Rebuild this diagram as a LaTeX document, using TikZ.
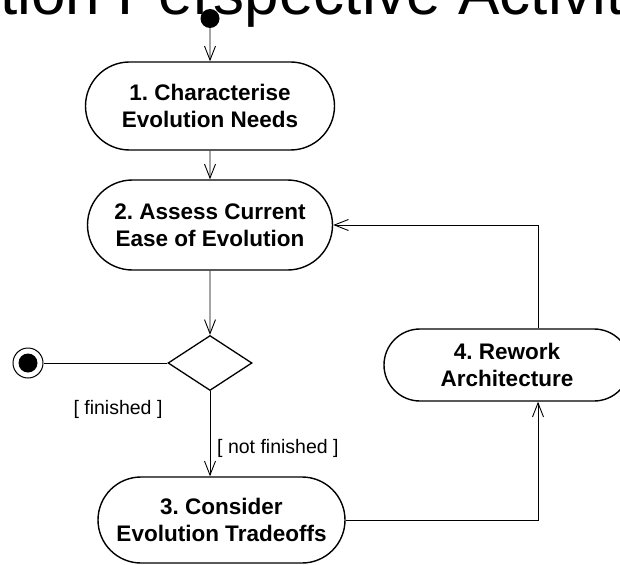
\documentclass[tikz,border=0pt]{standalone}
\usepackage{fontspec}
\newfontfamily\uifont{Liberation Sans}
\usetikzlibrary{calc,shapes.misc,shapes.geometric,arrows.meta}
\frenchspacing
\tikzset{
	activity/.style={draw,line width=1.4pt,rounded rectangle,align=center,inner sep=0pt,
		font=\uifont\bfseries\fontsize{22.5}{27}\selectfont},
	flow/.style={line width=0.9pt,-{Straight Barb[length=14pt,width=11pt,line width=0.9pt]}},
	guard/.style={inner sep=0pt,font=\uifont\fontsize{19.5}{23}\selectfont}
}

\begin{document}
\begin{tikzpicture}[x=1pt,y=-1pt]
	\useasboundingbox (0,0) rectangle (620,564);
	\node (title) [anchor=base west,inner sep=0pt,font=\uifont\fontsize{62}{70}\selectfont] at (-155,15) {Evolution Perspective Activity};
	\node (start) [circle,fill=black,minimum size=19pt,inner sep=0pt] at (210,18.5) {};
	\node (char) [activity,minimum width=249pt,minimum height=88pt] at (210,106) {1. Characterise\\Evolution Needs};
	\node (assess) [activity,minimum width=245pt,minimum height=90pt] at (210,225) {2. Assess Current\\Ease of Evolution};
	\node (choice) [diamond,draw,line width=1.3pt,minimum width=84pt,minimum height=55pt,inner sep=0pt] at (210,363) {};
	\node (stop) [circle,draw,line width=1pt,minimum size=30pt,inner sep=0pt] at (28,363) {};
	\node (stopdot) [circle,fill=black,minimum size=19pt,inner sep=0pt] at (stop) {};
	\node (consider) [activity,minimum width=247pt,minimum height=86pt] at (221.5,520) {3. Consider\\Evolution Tradeoffs};
	\node (rework) [activity,minimum width=246pt,minimum height=72pt] at (507,365) {4. Rework\\Architecture};
	\node (fin) [guard] at (118,409) {[ finished ]};
	\node (notfin) [guard,anchor=west] at ($(choice.south)+(7,57)$) {[ not finished ]};
	\coordinate (loop) at (538,0);
	% flows
	\draw[flow] (start) -- (char);
	\draw[flow] (char) -- (assess);
	\draw[flow] (assess) -- (choice);
	\draw[line width=0.9pt] (choice.west) -- (stop);
	\draw[flow] (choice) -- (choice |- consider.north);
	\draw[flow] (consider.east) -| (loop |- rework.south);
	\draw[flow] (loop |- rework.north) |- (assess.east);
\end{tikzpicture}
\end{document}
